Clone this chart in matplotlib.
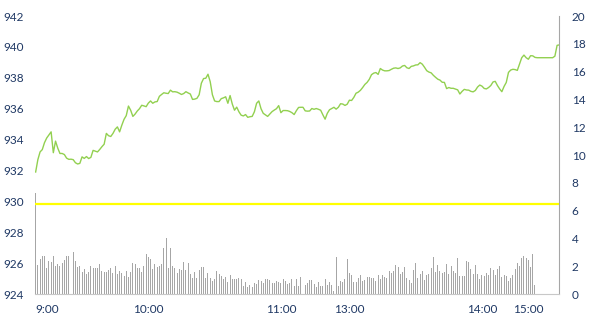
import matplotlib
matplotlib.use("Agg")
import matplotlib.pyplot as plt
import numpy as np

# intraday price (left axis), one value per minute slot
price = [
    931.9, 932.7, 933.2, 933.35, 933.8, 934.1, 934.3, 934.5, 933.15, 933.9,
    933.45, 933.1, 933.1, 933.03, 932.8, 932.72, 932.73, 932.7, 932.5, 932.42,
    932.46, 932.88, 932.78, 932.9, 932.77, 932.85, 933.3, 933.25, 933.2, 933.36,
    933.54, 933.7, 934.4, 934.25, 934.2, 934.4, 934.67, 934.82, 934.5, 934.93,
    935.31, 935.55, 936.17, 935.9, 935.5, 935.65, 935.85, 936.0, 936.22, 936.18,
    936.13, 936.36, 936.5, 936.35, 936.44, 936.46, 936.8, 936.92, 937.03, 937.0,
    936.98, 937.2, 937.09, 937.1, 937.07, 937.0, 936.92, 936.98, 937.1, 937.02,
    936.95, 936.6, 936.62, 936.67, 936.9, 937.65, 937.95, 937.97, 938.23, 937.75,
    936.9, 936.5, 936.46, 936.46, 936.65, 936.7, 936.77, 936.35, 936.85, 936.3,
    935.9, 936.1, 935.8, 935.58, 935.53, 935.62, 935.44, 935.48, 935.5, 935.8,
    936.35, 936.5, 936.0, 935.7, 935.6, 935.5, 935.65, 935.81, 935.91, 936.0,
    936.2, 935.74, 935.88, 935.88, 935.87, 935.82, 935.74, 935.62, 935.87, 936.08,
    936.09, 936.09, 935.86, 935.84, 935.85, 936.01, 935.96, 936.01, 935.96, 935.9,
    935.6, 935.32, 935.7, 935.93, 936.01, 936.09, 935.97, 936.09, 936.32, 936.3,
    936.21, 936.29, 936.55, 936.53, 936.73, 937.0, 937.07, 937.19, 937.37, 937.57,
    937.7, 937.9, 938.2, 938.3, 938.34, 938.22, 938.6, 938.5, 938.45, 938.45,
    938.47, 938.55, 938.62, 938.64, 938.6, 938.64, 938.76, 938.8, 938.65, 938.6,
    938.74, 938.77, 938.83, 938.84, 938.98, 938.88, 938.68, 938.46, 938.37, 938.32,
    938.16, 938.03, 937.91, 937.85, 937.71, 937.7, 937.3, 937.37, 937.32, 937.32,
    937.27, 937.22, 936.95, 937.12, 937.25, 937.21, 937.2, 937.12, 937.09, 937.18,
    937.4, 937.53, 937.46, 937.31, 937.28, 937.37, 937.5, 937.73, 937.77, 937.5,
    937.28, 937.1, 937.44, 937.7, 938.35, 938.5, 938.55, 938.53, 938.48, 938.9,
    939.3, 939.47, 939.3, 939.2, 939.43, 939.42, 939.32, 939.3, 939.3, 939.3,
    939.3, 939.3, 939.3, 939.3, 939.3, 939.4, 940.1, 940.13,
]

# traded volume (right axis)
volume = [
    7.27, 2.09, 2.52, 2.73, 2.73, 1.87, 2.37, 2.30, 2.73, 2.01,
    2.16, 2.01, 2.23, 2.45, 2.73, 2.73, 2.66, 3.02, 2.37, 1.94,
    2.01, 1.58, 1.80, 1.44, 1.58, 2.01, 1.87, 1.87, 1.87, 2.16,
    1.65, 1.58, 1.58, 1.73, 1.87, 1.51, 2.01, 1.44, 1.65, 1.51,
    1.29, 1.65, 1.22, 1.58, 2.23, 2.16, 1.87,
    1.87, 1.58, 2.01, 2.88, 2.66, 2.52, 1.80, 2.16, 1.94, 2.01,
    2.16, 3.31, 4.03, 1.87, 3.31, 2.01, 1.87, 1.51, 1.80, 1.73,
    2.30, 1.73, 2.23, 1.44, 1.15, 1.58, 1.15, 1.73, 1.94, 1.94,
    1.15, 1.51, 1.15, 0.94, 1.08, 1.65, 1.44, 1.29, 1.08, 1.22,
    0.86, 1.37, 1.08, 1.08, 1.08, 1.15,
    1.08, 0.58, 0.86, 0.50, 0.65, 0.50, 0.79, 0.72, 1.01, 0.94,
    0.79, 1.08, 1.08, 1.01, 0.79, 0.79, 0.94, 0.86, 0.79, 1.08,
    0.94, 0.72, 0.79, 1.08, 0.58, 1.08, 0.58, 1.22, 0.79, 0.65,
    0.79, 1.01, 1.01, 0.72, 0.50, 0.86, 0.58, 0.58, 1.08, 0.65,
    0.86, 0.65, 0.22, 2.66, 0.58, 0.94,
    0.86, 1.08, 2.52, 1.51, 1.37, 0.86, 0.86, 1.15, 1.37, 0.94,
    1.01, 1.22, 1.22, 1.15, 1.15, 0.94, 1.37, 1.08, 1.37, 1.22,
    1.15, 1.65, 1.51, 1.65, 2.09, 1.94, 1.44, 1.58, 1.94, 1.15,
    1.01, 0.79, 1.73, 2.23, 1.15, 1.44, 1.65, 1.01, 1.37, 1.44,
    1.87, 2.66, 1.58, 2.09, 1.65, 1.51,
    1.58, 2.16, 1.44, 2.01, 1.65, 1.51, 2.59, 1.29, 1.29, 1.29,
    2.37, 2.30, 1.80, 1.44, 2.09, 1.44, 1.08, 1.37, 1.29, 1.51,
    1.37, 1.87, 1.73, 1.37, 1.80, 2.01, 1.22, 1.37, 1.29, 0.94,
    1.15, 1.37, 1.80, 2.23, 2.01, 2.59, 2.73, 2.59, 2.45, 1.94,
    2.88, 0.65,
]

prev_close = 929.83

# time labels and the slot each one sits on
time_labels = ["9:00", "10:00", "11:00", "13:00", "14:00", "15:00"]
time_slots = [5, 51, 111, 142, 202, 223]

text_color = "#1F3864"
plt.rcParams["font.family"] = ["Lato", "DejaVu Sans"]

fig = plt.figure(figsize=(5.95, 3.30), dpi=100)
ax = fig.add_axes([0.0588, 0.109, 0.8812, 0.8425])
ax_vol = ax.twinx()

# volume bars behind the price line
ax.set_zorder(ax_vol.get_zorder() + 1)
ax.patch.set_visible(False)

ax_vol.bar(np.arange(len(volume)), volume, width=0.45, color="#A6A6A6", linewidth=0)
ax.plot(np.arange(len(price)), price, color="#92D050", lw=1.0)
ax.axhline(prev_close, color="#FFFF00", lw=1.6)

ax.set_xlim(-0.3, 237)
ax.set_ylim(924, 942)
ax.set_yticks(np.arange(924, 943, 2))
ax_vol.set_ylim(0, 20)
ax_vol.set_yticks(np.arange(0, 21, 2))

ax.set_xticks(time_slots)
ax.set_xticklabels(time_labels)

for a in (ax, ax_vol):
    for s in a.spines.values():
        s.set_visible(False)
    a.tick_params(length=0, labelsize=8.5, labelcolor=text_color)
ax.tick_params(axis="y", pad=8)
ax.tick_params(axis="x", pad=7.5)
ax_vol.tick_params(axis="y", pad=9)

ax_vol.spines["bottom"].set_visible(True)
ax_vol.spines["bottom"].set_color("#C8C8C8")
ax_vol.spines["right"].set_visible(True)
ax_vol.spines["right"].set_color("#A6A6A6")

fig.savefig("out.png", dpi=100)
